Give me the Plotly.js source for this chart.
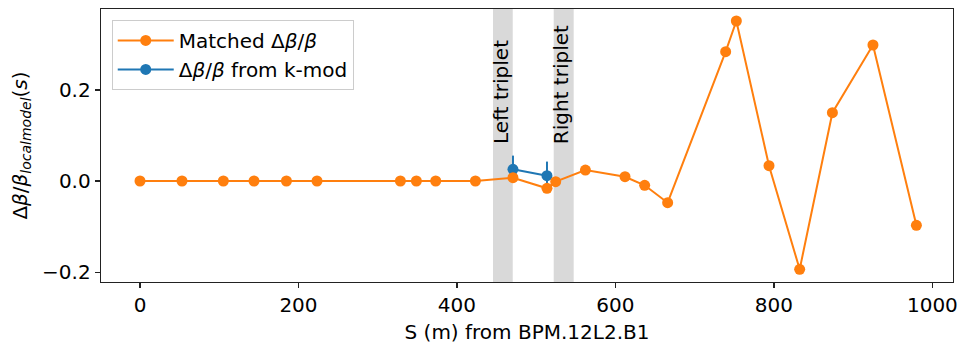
<!DOCTYPE html>
<html>
<head>
<meta charset="utf-8">
<script src="https://cdn.plot.ly/plotly-3.0.1.min.js"></script>
<style>html,body{margin:0;padding:0;background:#fff;}#chart{width:963px;height:344px;}</style>
</head>
<body>
<div id="chart"></div>
<script>
// Matched Δβ/β (orange)
const matchedS = [0, 53.0, 105.2, 143.9, 184.8, 223.4, 328.6, 348.8, 373.2, 423.3,
                  470.7, 513.6, 524.6, 562.1, 612.1, 636.9, 665.9, 739.1, 752.6,
                  793.8, 832.5, 873.8, 925.0, 979.8];
const matchedVal = [0, 0, 0, 0, 0, 0, 0, 0, 0, 0,
                    0.0072, -0.016, -0.0015, 0.0241, 0.0094, -0.0094, -0.0476, 0.2837, 0.3511,
                    0.0336, -0.1938, 0.1499, 0.2984, -0.0972];
// Δβ/β from k-mod (blue)
const kmodS = [470.7, 513.6];
const kmodVal = [0.0257, 0.0116];
const kmodErr = [0.030, 0.031];
// Triplet regions
const tripletNames = ["Left triplet", "Right triplet"];
const tripletStart = [445.5, 522.1];
const tripletEnd = [470.4, 547.3];
// Ticks
const xTicks = [0, 200, 400, 600, 800, 1000];
const yTicks = [-0.2, 0.0, 0.2];
const yTickText = ["\u22120.2", "0.0", "0.2"];

const FONT = "DejaVu Sans, sans-serif";
const ORANGE = "#ff7f0e", BLUE = "#1f77b4";

const traces = [
  {
    x: kmodS, y: kmodVal, type: "scatter", mode: "lines+markers",
    name: "Δ<i>β</i>/<i>β</i> from k-mod",
    line: {color: BLUE, width: 2},
    marker: {color: BLUE, size: 11},
    error_y: {type: "data", array: kmodErr, visible: true, color: BLUE, thickness: 2, width: 0},
    legendrank: 2
  },
  {
    x: matchedS, y: matchedVal, type: "scatter", mode: "lines+markers",
    name: "Matched Δ<i>β</i>/<i>β</i>",
    line: {color: ORANGE, width: 2},
    marker: {color: ORANGE, size: 11},
    legendrank: 1
  }
];

const shapes = tripletStart.map((s, i) => ({
  type: "rect", xref: "x", yref: "paper", x0: s, x1: tripletEnd[i], y0: 0, y1: 1,
  fillcolor: "#d9d9d9", line: {width: 0}, layer: "below"
}));

const annotations = tripletNames.map((t, i) => ({
  text: t, x: tripletStart[i], y: 0.0834, xref: "x", yref: "y",
  textangle: -90, xanchor: "left", yanchor: "bottom", showarrow: false,
  xshift: -6, yshift: -3,
  font: {family: FONT, size: 20, color: "#000"}
}));

const layout = {
  width: 963, height: 344,
  margin: {l: 101, r: 10, t: 9, b: 62},
  paper_bgcolor: "#fff", plot_bgcolor: "#fff",
  font: {family: FONT, size: 20, color: "#000"},
  showlegend: true,
  legend: {
    x: 0.0126, y: 0.96, xanchor: "left", yanchor: "top",
    bgcolor: "rgba(255,255,255,0.8)", bordercolor: "#cccccc", borderwidth: 1,
    itemwidth: 56,
    font: {family: FONT, size: 20, color: "#000"}
  },
  xaxis: {
    range: [-49.2, 1026], tickvals: xTicks, ticktext: xTicks.map(String),
    showgrid: false, zeroline: false,
    showline: true, mirror: true, linecolor: "#222", linewidth: 1.3,
    ticks: "outside", ticklen: 5, tickwidth: 1.3, tickcolor: "#222",
    tickfont: {family: FONT, size: 20, color: "#000"},
    title: {text: "S (m) from BPM.12L2.B1", font: {family: FONT, size: 20, color: "#000"}, standoff: 8}
  },
  yaxis: {
    range: [-0.2216, 0.3774], tickvals: yTicks, ticktext: yTickText,
    showgrid: false, zeroline: false,
    showline: true, mirror: true, linecolor: "#222", linewidth: 1.3,
    ticks: "outside", ticklen: 5, tickwidth: 1.3, tickcolor: "#222",
    tickfont: {family: FONT, size: 20, color: "#000"},
    title: {text: "Δ<i>β</i>/<i>β</i><sub><i>localmodel</i></sub>(<i>s</i>)", font: {family: FONT, size: 20, color: "#000"}, standoff: 9}
  },
  shapes: shapes,
  annotations: annotations
};

Plotly.newPlot("chart", traces, layout, {displayModeBar: false, staticPlot: true});
</script>
</body>
</html>
